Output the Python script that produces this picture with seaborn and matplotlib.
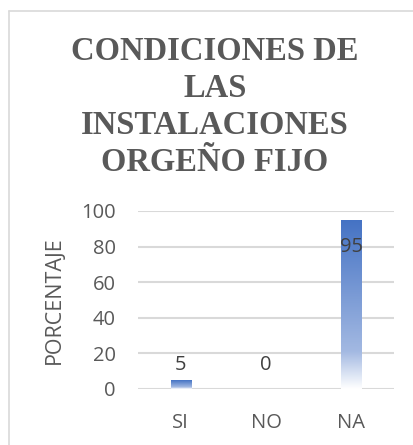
import numpy as np
import pandas as pd
import matplotlib
matplotlib.use("Agg")
import matplotlib.pyplot as plt
from matplotlib.colors import LinearSegmentedColormap
from matplotlib.lines import Line2D
import seaborn as sns

categories = ["SI", "NO", "NA"]
values = [5, 0, 95]
label_pos = [13.5, 13.5, 79.5]
title_lines = ["CONDICIONES DE", "LAS", "INSTALACIONES", "ORGEÑO FIJO"]
yticks = [0, 20, 40, 60, 80, 100]

sns.set_theme(style="white")
plt.rcParams['font.family'] = ['Open Sans', 'DejaVu Sans']

W, H = 413, 445
fig = plt.figure(figsize=(W / 100, H / 100), dpi=100)
fig.patch.set_facecolor("white")

def fx(px):
    return px / W

def fy(py):
    return 1 - py / H

# frame (top and left visible)
fig.add_artist(Line2D([fx(9), fx(413)], [fy(11), fy(11)], color="#D9D9D9", lw=1.2))
fig.add_artist(Line2D([fx(9), fx(9)], [fy(11), fy(445)], color="#D9D9D9", lw=1.2))

ax = fig.add_axes([fx(138), fy(389), fx(394) - fx(138), fy(211) - fy(389)])
df = pd.DataFrame({"cat": categories, "val": values})
sns.barplot(data=df, x="cat", y="val", ax=ax, width=0.235, color="#4472C4", zorder=3)

ax.set_xlim(-0.5, 2.5)
ax.set_ylim(0, 100)
ax.set_yticks(yticks)
for s in ax.spines.values():
    s.set_visible(False)
ax.grid(axis="y", color="#D9D9D9", lw=1.5, zorder=0)
ax.set_axisbelow(True)
ax.tick_params(axis="both", length=0, labelsize=14.5, colors="#595959")
ax.tick_params(axis="y", pad=16)
ax.tick_params(axis="x", pad=17)
ax.set_xlabel("")
ax.set_ylabel("PORCENTAJE", fontsize=15.5, color="#595959")
ax.yaxis.set_label_coords((65 - 138) / 256, 0.5)

cmap = LinearSegmentedColormap.from_list(
    "g", [(0, "#FFFFFF"), (0.22, "#A3B9E2"), (1, "#4472C4")])
grad = np.linspace(0, 1, 256).reshape(-1, 1)
for p in list(ax.patches):
    h = p.get_height()
    if h <= 0:
        p.set_visible(False)
        continue
    x0 = p.get_x()
    w = p.get_width()
    p.set_facecolor("none")
    p.set_edgecolor("none")
    im = ax.imshow(grad, cmap=cmap, origin="lower", aspect="auto",
                   extent=(x0, x0 + w, 0, h), zorder=3)
    im.set_clip_path(p)
ax.set_xlim(-0.5, 2.5)
ax.set_ylim(0, 100)

for i, (v, lp) in enumerate(zip(values, label_pos)):
    ax.text(i, lp, f"{v}", ha="center", va="center", fontsize=14.5,
            color="#404040", zorder=5)

baselines = [60, 97, 134, 171]
for line, b in zip(title_lines, baselines):
    fig.text(fx(215), fy(b), line, ha="center", va="baseline",
             fontsize=23.5, fontweight="bold", color="#595959",
             family=["Liberation Serif", "DejaVu Serif"])

fig.savefig("out.png", dpi=100, facecolor="white")
